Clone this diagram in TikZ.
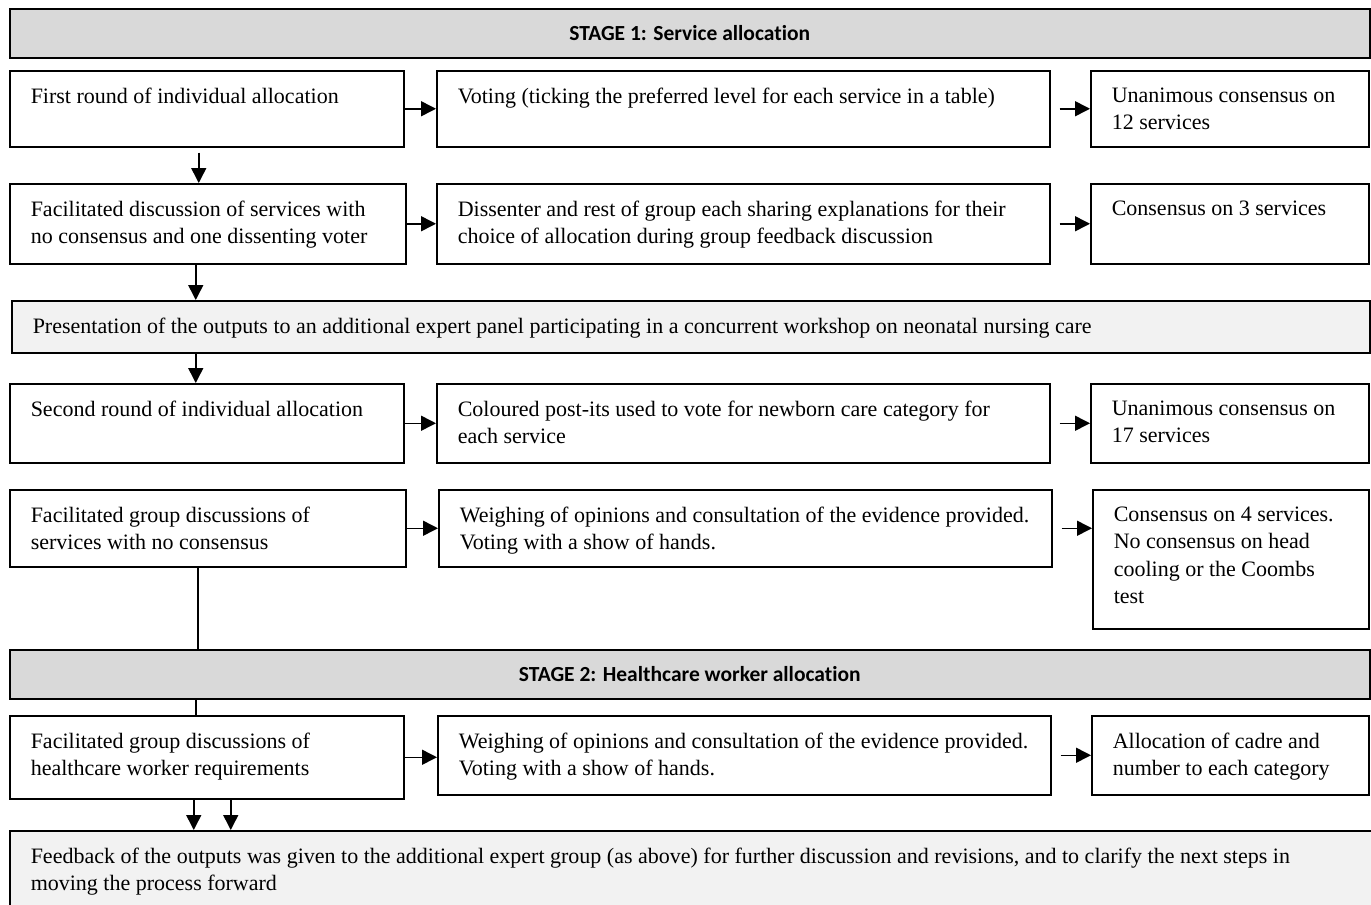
\documentclass[tikz,border=0pt]{standalone}
\usepackage{fontspec}
\setmainfont{Liberation Serif}
\newfontfamily\stagefont[Ligatures=NoCommon]{Carlito}
\usetikzlibrary{arrows.meta}
\definecolor{stage fill}{RGB}{217,217,217}
\definecolor{note fill}{RGB}{242,242,242}

% box text: outer width, outer height, text
\newcommand{\cellbox}[3]{\parbox[t][\dimexpr#2pt-34pt\relax][t]{\dimexpr#1pt-42pt\relax}{\raggedright #3}}

\begin{document}
\begin{tikzpicture}[
	x=1pt, y=-1pt,
	font=\fontsize{22}{27.5}\selectfont,
	line width=1.5pt,
	cell/.style={draw, anchor=north west, inner xsep=21pt, inner ysep=17pt, align=left},
	stage/.style={draw, fill=stage fill, anchor=north west, minimum width=1360pt, minimum height=49pt,
		font=\stagefont\bfseries\fontsize{21.5}{26}\selectfont},
	arr/.style={-{Triangle[length=15pt,width=15pt]}}]

\path [use as bounding box, clip] (0,0) rectangle (1371,905);

% Stage 1
\node (s1) at (9,8) [stage] {STAGE 1: Service allocation};

\node (a1) at (9,70) [cell] {\cellbox{394}{76}{First round of individual allocation}};
\node (a2) at (436,70) [cell] {\cellbox{613}{76}{Voting (ticking the preferred level for each service in a table)}};
\node (a3) at (1090,70) [cell] {\cellbox{278}{76}{Unanimous consensus on\\12 services}};

\node (b1) at (9,183) [cell] {\cellbox{396}{80}{Facilitated discussion of services with\\no consensus and one dissenting voter}};
\node (b2) at (436,183) [cell] {\cellbox{613}{80}{Dissenter and rest of group each sharing explanations for their\\choice of allocation during group feedback discussion}};
\node (b3) at (1090,183) [cell] {\cellbox{278}{80}{Consensus on 3 services}};

\node (pres) at (11,300) [cell, fill=note fill] {\cellbox{1358}{52}{Presentation of the outputs to an additional expert panel participating in a concurrent workshop on neonatal nursing care}};

\node (c1) at (9,383) [cell] {\cellbox{394}{79}{Second round of individual allocation}};
\node (c2) at (436,383) [cell] {\cellbox{613}{79}{Coloured post-its used to vote for newborn care category for\\each service}};
\node (c3) at (1090,383) [cell] {\cellbox{278}{79}{Unanimous consensus on\\17 services}};

\node (d1) at (9,489) [cell] {\cellbox{396}{77}{Facilitated group discussions of\\services with no consensus}};
\node (d2) at (438,489) [cell] {\cellbox{613}{77}{Weighing of opinions and consultation of the evidence provided.\\Voting with a show of hands.}};
\node (d3) at (1092,489) [cell] {\cellbox{276}{139}{Consensus on 4 services.\\No consensus on head\\cooling or the Coombs\\test}};

% Stage 2
\node (s2) at (9,649) [stage] {STAGE 2: Healthcare worker allocation};

\node (e1) at (9,715) [cell] {\cellbox{394}{83}{Facilitated group discussions of\\healthcare worker requirements}};
\node (e2) at (437,715) [cell] {\cellbox{613}{79}{Weighing of opinions and consultation of the evidence provided.\\Voting with a show of hands.}};
\node (e3) at (1091,715) [cell] {\cellbox{277}{79}{Allocation of cadre and\\number to each category}};

\node (feed) at (9,830) [cell, fill=note fill] {\cellbox{1390}{95}{Feedback of the outputs was given to the additional expert group (as above) for further discussion and revisions, and to clarify the next steps in\\moving the process forward}};

% Across each row
\foreach \r in {a,b,c,d,e} {
    \draw [arr] (\r1.east) -- (\r1.east -| \r2.west);
    \draw [arr, shorten <=9pt] (\r2.east) -- (\r2.east -| \r3.west);
}

% Down the left column
\draw [arr, shorten <=5pt] ([xshift=-8pt]a1.south) -- ([xshift=-8pt]a1.south |- b1.north);
\draw [arr] ([xshift=-12pt]b1.south) -- ([xshift=-12pt]b1.south |- pres.north);
\draw [arr] ([xshift=-11pt]c1.north |- pres.south) -- ([xshift=-11pt]c1.north);
\draw ([xshift=-10pt]d1.south) -- ([xshift=-10pt]d1.south |- s2.north);
\draw ([xshift=-11pt]e1.north |- s2.south) -- ([xshift=-11pt]e1.north);
\draw [arr] ([xshift=-13pt]e1.south) -- ([xshift=-13pt]e1.south |- feed.north);
\draw [arr] ([xshift=24pt]e1.south) -- ([xshift=24pt]e1.south |- feed.north);

\end{tikzpicture}
\end{document}
